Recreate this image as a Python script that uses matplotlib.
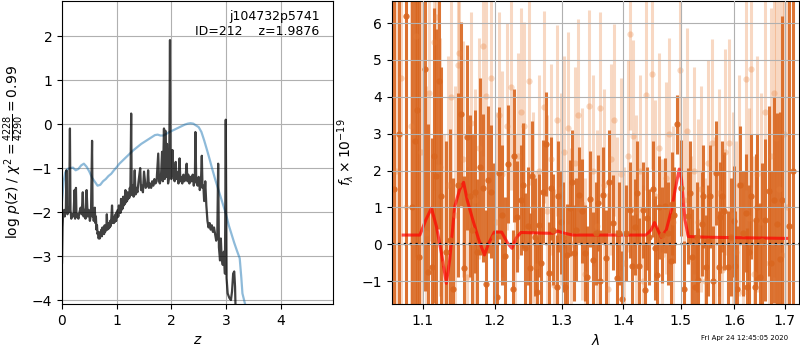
import numpy as np
import matplotlib.pyplot as plt
from matplotlib.ticker import FixedLocator, FormatStrFormatter, NullLocator

# ---- p(z) panel ----
z_low = [0.000, 0.010, 0.020, 0.030, 0.040, 0.050, 0.060, 0.070, 0.080, 0.090,
         0.100, 0.110, 0.130, 0.145, 0.155, 0.170, 0.190, 0.210, 0.230, 0.240,
         0.255, 0.265, 0.280, 0.300, 0.320, 0.340, 0.360, 0.380, 0.395, 0.410,
         0.430, 0.450, 0.470, 0.490, 0.510, 0.530, 0.550]
pz_low = [-3.15, -2.35, -2.05, -2.00, -1.95, -2.10, -1.98, -2.02, -1.05, -1.95,
          -2.05, -1.90, -2.00, -0.10, -1.95, -2.15, -2.05, -2.10, -1.50, -2.15,
          -1.45, -2.10, -2.05, -2.15, -2.00, -1.90, -2.05, -1.55, -2.10, -1.95,
          -2.15, -1.50, -2.10, -1.95, -2.20, -2.05, -0.38]

z_mid = [0.56, 0.57, 0.58, 0.59, 0.60, 0.61, 0.62, 0.63, 0.64, 0.65,
         0.66, 0.67, 0.68, 0.69, 0.70, 0.71, 0.72, 0.73, 0.74, 0.75,
         0.76, 0.77, 0.78, 0.79, 0.80, 0.81, 0.82, 0.83, 0.84, 0.85,
         0.86, 0.87, 0.88, 0.89, 0.90, 0.915, 0.93, 0.94, 0.95, 0.96,
         0.97, 0.98, 0.99, 1.00, 1.01, 1.02, 1.03, 1.04, 1.05, 1.06,
         1.07, 1.08, 1.09, 1.10, 1.11, 1.12, 1.13, 1.14, 1.15, 1.16,
         1.17, 1.18, 1.19, 1.20, 1.21, 1.22, 1.23, 1.24, 1.25]
pz_mid = [-2.10, -1.95, -2.20, -2.05, -1.90, -2.25, -2.10, -2.40, -2.30, -2.50,
          -2.45, -2.60, -2.50, -2.60, -2.45, -2.55, -2.40, -2.55, -2.35, -2.50,
          -2.40, -2.50, -2.30, -2.45, -2.35, -2.40, -2.05, -2.40, -2.30, -2.38,
          -2.25, -2.35, -2.20, -2.32, -2.18, -1.85, -2.25, -2.15, -2.25, -2.10,
          -2.22, -2.05, -2.20, -2.00, -2.12, -1.95, -2.10, -1.85, -2.00, -1.90,
          -2.02, -1.70, -1.95, -1.80, -1.92, -1.65, -1.85, -1.70, -1.82, -1.50,
          -1.78, -1.62, -1.75, -1.55, -1.70, -1.58, -1.68, -1.45, -1.62]

z_high = [1.265, 1.275, 1.290, 1.310, 1.330, 1.345, 1.360,
          1.380, 1.400, 1.430, 1.445, 1.460, 1.480, 1.500, 1.530, 1.560, 1.575,
          1.590, 1.610, 1.630, 1.650, 1.670, 1.690, 1.710, 1.730, 1.760, 1.775,
          1.790, 1.810, 1.830, 1.845, 1.865, 1.878, 1.890, 1.905, 1.920, 1.940,
          1.960, 1.975, 1.985, 2.000, 2.020, 2.040, 2.060, 2.080, 2.095, 2.110,
          2.130, 2.150, 2.165, 2.180, 2.200, 2.220, 2.240, 2.260, 2.280, 2.295,
          2.310, 2.330, 2.350, 2.370, 2.390, 2.410, 2.430, 2.440, 2.455, 2.480,
          2.500, 2.520, 2.540, 2.557, 2.570, 2.585, 2.600, 2.620, 2.640, 2.660,
          2.680, 2.700, 2.720, 2.740, 2.760, 2.780, 2.800, 2.820, 2.840, 2.856,
          2.870, 2.890, 2.905, 2.920, 2.940, 2.960, 2.980, 2.995, 3.010, 3.030,
          3.060, 3.090, 3.110, 3.130, 3.150, 3.165, 3.180]
pz_high = [0.24, -1.60, -1.40, -1.65, -1.05, -1.60, -1.45,
           -1.55, -1.30, -1.00, -1.50, -1.40, -1.55, -1.08, -1.45, -1.40, -1.05,
           -1.45, -1.35, -1.45, -1.30, -1.40, -1.25, -1.35, -1.30, -0.67, -1.30,
           -1.35, -1.20, -0.63, -1.30, -0.10, -1.25, -0.15, -1.20, -0.45, -1.35,
           -1.20, 1.91, -1.10, -1.25, -0.59, -1.15, -1.30, -0.86, -1.25, -1.10,
           -1.35, -0.78, -1.30, -1.20, -1.35, -1.15, -1.30, -1.20, -0.90, -1.30,
           -1.15, -1.35, -1.20, -1.30, -1.15, -1.40, -1.25, -0.18, -1.30, -1.40,
           -1.20, -1.50, -1.35, -0.72, -1.45, -1.40, -1.75, -1.30, -1.85, -2.20,
           -2.35, -2.25, -2.40, -2.30, -2.45, -2.35, -2.50, -2.65, -2.55, -0.90,
           -2.80, -3.10, -2.60, -3.05, -3.20, -2.90, -3.40, 0.10, -3.50, -3.85,
           -3.95, -4.00, -3.80, -3.40, -3.35, -3.70, -4.50]

z_prior = [0.00, 0.03, 0.06, 0.10, 0.15, 0.20, 0.25, 0.30, 0.35, 0.40,
           0.45, 0.50, 0.55, 0.60, 0.65, 0.70, 0.75, 0.80, 0.85, 0.90,
           0.95, 1.00, 1.05, 1.10, 1.15, 1.20, 1.25, 1.30, 1.35, 1.40,
           1.45, 1.50, 1.55, 1.60, 1.65, 1.70, 1.75, 1.80, 1.85, 1.90,
           1.95, 2.00, 2.05, 2.10, 2.15, 2.20, 2.25, 2.30, 2.35, 2.40,
           2.45, 2.50, 2.55, 2.60, 2.65, 2.70, 2.75, 2.80, 2.85, 2.90,
           2.95, 3.00, 3.05, 3.10, 3.15, 3.20, 3.25, 3.28, 3.30, 3.33, 3.36]
log_prior = [-1.75, -1.30, -1.10, -1.02, -1.00, -0.99, -1.05, -1.02, -0.94, -0.90,
             -0.97, -1.08, -1.22, -1.31, -1.40, -1.38, -1.30, -1.25, -1.18, -1.13,
             -1.05, -0.98, -0.90, -0.84, -0.78, -0.72, -0.66, -0.60, -0.55, -0.50,
             -0.45, -0.41, -0.37, -0.33, -0.29, -0.25, -0.24, -0.26, -0.26, -0.23,
             -0.19, -0.16, -0.13, -0.10, -0.07, -0.04, -0.01, 0.01, 0.02, 0.01,
             -0.03, -0.07, -0.18, -0.37, -0.58, -0.80, -1.03, -1.25, -1.45, -1.65,
             -1.85, -2.05, -2.30, -2.50, -2.70, -2.88, -3.05, -3.50, -3.85, -4.00, -4.15]

# ---- spectrum panel ----
wave_a = [1.063, 1.069, 1.078, 1.086, 1.090, 1.093, 1.096, 1.1035, 1.1075, 1.112,
          1.1155, 1.118, 1.122, 1.125, 1.131, 1.137, 1.1413, 1.148, 1.152, 1.1565,
          1.1607, 1.1644, 1.1714, 1.1738, 1.1832, 1.187, 1.1904, 1.195, 1.2033, 1.2062,
          1.2145, 1.2194, 1.2257, 1.2316, 1.238, 1.244, 1.2515, 1.2551, 1.2617, 1.2652,
          1.2718, 1.2764, 1.281, 1.2841, 1.2923, 1.2985, 1.3053, 1.3132, 1.3191, 1.328,
          1.3376, 1.3446, 1.3505, 1.3587, 1.3658, 1.3713, 1.3825, 1.3891, 1.3975, 1.405,
          1.4115, 1.4201, 1.427, 1.4332, 1.4372, 1.4445, 1.4506, 1.4576, 1.4664, 1.473,
          1.482, 1.489, 1.494, 1.500, 1.507, 1.5139, 1.520, 1.526, 1.532, 1.5385,
          1.5405, 1.547, 1.554, 1.5651, 1.571, 1.573, 1.576, 1.588, 1.600, 1.6005,
          1.611, 1.6232, 1.624, 1.6325, 1.640, 1.6415, 1.650, 1.661, 1.668, 1.672,
          1.684, 1.695, 1.708, 1.716]
flux_a = [1.5, 3.0, 6.2, 1.0, 2.79, 3.65, -0.34, 4.74, -0.74, -0.61,
          2.4, 1.84, 4.42, 1.3, -0.2, 0.12, -1.2, 1.61, 3.53, -0.65,
          2.9, 1.3, 1.43, -0.22, 1.52, -1.08, 1.75, 1.43, -1.42, 1.93,
          -0.32, 2.17, -1.2, 0.75, 1.2, -0.11, -0.65, 1.84, -1.29, 0.51,
          1.43, 2.72, -0.79, 1.52, -1.15, 0.6, -1.17, 0.98, -0.23, 1.34,
          -0.24, 1.22, -0.43, 1.11, 1.34, -0.38, 0.59, -0.92, -1.49, 0.3,
          0.93, 0.48, -0.6, 0.93, -1.24, 0.2, 1.49, -0.83, 0.25, 1.05,
          -0.45, 0.8, 3.25, 1.52, -1.2, 0.77, -0.34, -1.15, -0.97, 0.55,
          1.3, -0.61, 1.3, 1.93, -0.61, 0.73, 1.3, -0.61, 0.62, -0.6,
          1.61, 0.84, -1.15, 1.3, -1.15, 0.66, -0.88, 0.66, 1.44, -0.52,
          0.55, 1.2, 0.5, 2.0]
err_a = [9, 9, 9, 9, 8, 8, 8, 6, 4, 3.5,
         4, 4, 4, 3.5, 3, 3, 3, 2.5, 2.5, 2.5,
         2.5, 2.2, 2.2, 2.0, 2.0, 2.0, 2.0, 1.8, 1.8, 1.8,
         1.6, 1.6, 1.6, 1.5, 1.5, 1.5, 1.5, 1.5, 1.5, 1.4,
         1.4, 1.4, 1.4, 1.4, 1.4, 1.4, 1.3, 1.3, 1.3, 1.3,
         1.3, 1.3, 1.3, 1.3, 1.3, 1.3, 1.3, 1.3, 1.3, 1.3,
         1.3, 1.3, 1.3, 1.3, 1.3, 1.3, 1.3, 1.3, 1.3, 1.3,
         1.3, 1.3, 0.8, 1.3, 1.3, 1.3, 1.3, 1.4, 1.4, 1.4,
         1.4, 1.4, 1.4, 1.4, 1.5, 1.5, 1.5, 1.5, 1.5, 1.5,
         1.6, 1.6, 1.6, 1.7, 1.8, 1.8, 2.0, 2.2, 2.3, 2.5,
         3.0, 5, 9, 9]

# second exposure, same grism
wave_c = [1.1675, 1.1785, 1.199, 1.210, 1.228, 1.241, 1.248, 1.2585, 1.268, 1.2875,
          1.295, 1.302, 1.309, 1.316, 1.323, 1.333, 1.341, 1.355, 1.362, 1.376,
          1.393, 1.4155, 1.424, 1.441, 1.454, 1.462, 1.478, 1.4855, 1.517, 1.5295,
          1.5505, 1.559, 1.581, 1.5935, 1.606, 1.617, 1.628, 1.645, 1.655, 1.678,
          1.690]
flux_c = [0.4, 2.1, 0.2, 0.8, 2.4, 1.6, 0.5, 0.2, -0.5, 0.4,
          1.3, 0.2, -0.3, 1.7, 0.4, 0.9, -0.9, 0.3, -1.0, 1.7,
          0.3, -0.6, 1.4, 0.7, -0.1, 1.0, 0.3, 1.1, 1.4, 0.2,
          0.1, -1.0, 0.9, 0.2, -1.2, 0.3, -0.2, 1.0, 0.1, 1.2,
          -0.4]
err_c = [2.6, 2.4, 2.0, 1.9, 1.8, 1.7, 1.6, 1.6, 1.5, 1.5,
         1.5, 1.5, 1.4, 1.4, 1.4, 1.4, 1.4, 1.4, 1.4, 1.4,
         1.4, 1.4, 1.4, 1.4, 1.4, 1.4, 1.4, 1.4, 1.4, 1.5,
         1.5, 1.5, 1.6, 1.6, 1.7, 1.7, 1.8, 2.0, 2.1, 2.8,
         4.0]

wave_b = [1.066, 1.072, 1.079, 1.085, 1.092, 1.098, 1.104, 1.109, 1.1155, 1.1185,
          1.124, 1.129, 1.134, 1.139, 1.144, 1.148, 1.150, 1.155, 1.160, 1.166,
          1.171, 1.177, 1.1823, 1.187, 1.1951, 1.201, 1.206, 1.211, 1.2176, 1.2236,
          1.229, 1.234, 1.238, 1.243, 1.250, 1.256, 1.261, 1.266, 1.2726, 1.278,
          1.283, 1.288, 1.2935, 1.299, 1.304, 1.310, 1.315, 1.321, 1.3267, 1.332,
          1.338, 1.344, 1.350, 1.356, 1.362, 1.368, 1.374, 1.379, 1.384, 1.390,
          1.396, 1.402, 1.4075, 1.4115, 1.416, 1.422, 1.428, 1.434, 1.4392, 1.4492,
          1.455, 1.461, 1.467, 1.474, 1.480, 1.487, 1.4995, 1.506, 1.512, 1.518,
          1.525, 1.531, 1.538, 1.544, 1.551, 1.557, 1.563, 1.570, 1.577, 1.583,
          1.590, 1.597, 1.603, 1.610, 1.617, 1.6232, 1.628, 1.633, 1.638, 1.645,
          1.652, 1.661, 1.668, 1.672, 1.678, 1.683, 1.689, 1.694, 1.699, 1.704]
flux_b = [2.0, 4.5, 1.0, 3.2, 5.66, 2.5, 0.3, 4.09, 5.48, 6.17,
          2.1, -0.5, 1.6, 4.0, 0.8, 4.85, 5.19, 2.3, -0.9, 3.3,
          1.2, 2.6, 5.39, 4.03, 4.51, 0.6, 3.51, 1.9, 3.2, 4.27,
          0.2, 2.4, 3.6, 3.22, 4.42, 1.0, -0.6, 2.0, 3.72, 0.9,
          2.3, -1.1, 3.36, 1.5, 2.5, 3.15, 0.0, 2.2, 3.51, 1.1,
          -0.8, 3.76, 2.0, 0.5, 3.7, 1.6, -1.2, 2.3, 3.38, 0.3,
          1.9, -0.5, 2.4, 5.69, 2.93, 0.9, 2.0, -1.0, 4.06, 4.63,
          1.3, 2.6, -0.3, 1.8, 3.0, 0.6, 4.72, 1.2, 3.06, -0.4,
          2.0, 0.6, 1.5, -1.0, 2.2, 2.76, 0.1, 1.4, -0.7, 2.5,
          2.76, 0.8, -0.2, 1.6, -1.3, 4.48, 0.7, 4.75, -0.8, 1.9,
          0.6, 3.58, -0.5, 2.4, 4.1, 2.88, 1.5, -0.3, 3.0, 1.0]
err_b = [9, 9, 8, 8, 6, 5, 4, 4, 4, 4,
         3.5, 3.5, 3.5, 3.5, 3.5, 3.2, 3.2, 3.2, 3.0, 3.0,
         3.0, 3.0, 3.0, 3.0, 3.0, 3.0, 2.8, 2.8, 2.8, 2.8,
         2.8, 2.8, 2.8, 2.8, 2.8, 2.6, 2.6, 2.6, 2.6, 2.6,
         2.6, 2.6, 2.6, 2.6, 2.6, 2.6, 2.6, 2.6, 2.6, 2.6,
         2.6, 2.6, 2.6, 2.6, 2.6, 2.6, 2.6, 2.6, 2.6, 2.6,
         2.6, 2.6, 2.6, 2.6, 2.6, 2.6, 2.6, 2.6, 2.6, 2.6,
         2.6, 2.6, 2.6, 2.6, 2.6, 2.6, 2.8, 2.8, 2.8, 2.8,
         2.8, 2.8, 2.8, 2.8, 2.8, 2.8, 2.8, 2.8, 2.8, 2.8,
         2.8, 2.8, 3.0, 3.0, 3.0, 3.0, 3.0, 3.2, 3.2, 3.2,
         3.5, 3.5, 4, 4, 5, 6, 8, 9, 9, 9]

wave_model = [1.0747, 1.0965, 1.1044, 1.1119, 1.1186, 1.1253, 1.132, 1.1365, 1.1434, 1.1502,
              1.1557, 1.1607, 1.1686, 1.177, 1.185, 1.1911, 1.1992, 1.2098, 1.2185, 1.2248,
              1.2307, 1.2381, 1.276, 1.2863, 1.294, 1.3045, 1.3178, 1.4391, 1.4479, 1.4537,
              1.4584, 1.4655, 1.4745, 1.4835, 1.4914, 1.4975, 1.5018, 1.5079, 1.514, 1.5516,
              1.70, 1.7039]
flux_model = [0.25, 0.25, 0.66, 0.98, 0.48, -0.24, -1.06, -0.43, 1.02, 1.48,
              1.68, 1.2, 0.66, 0.12, -0.29, 0.03, 0.33, 0.33, 0.03, -0.11,
              0.16, 0.32, 0.3, 0.3, 0.36, 0.3, 0.25, 0.25, 0.39, 0.59,
              0.43, 0.19, 0.39, 0.93, 1.57, 2.04, 1.75, 0.66, 0.21, 0.19,
              0.16, 0.16]

fig = plt.figure(figsize=(8, 3.5), dpi=100)

# Left: redshift probability
ax = fig.add_axes([0.0775, 0.1314, 0.339, 0.866])
ax.plot(z_prior, log_prior, color='tab:blue', alpha=0.5, lw=1.6)
ax.plot(z_low + z_mid + z_high, pz_low + pz_mid + pz_high, color='k', alpha=0.75, lw=1.6)
ax.set_xlim(0, 4.96)
ax.set_ylim(-4.09, 2.8)
ax.set_xticks([0, 1, 2, 3, 4])
ax.set_yticks([-4, -3, -2, -1, 0, 1, 2])
ax.grid()
ax.set_xlabel(r'$z$')
ax.set_ylabel(r'log $p(z)$ / $\chi^2=\frac{4228}{4290}=0.99$')
ax.text(0.95, 0.97, 'j104732p5741\nID=212    z=1.9876', transform=ax.transAxes,
        ha='right', va='top', fontsize=9)

# Right: spectrum
ax1 = fig.add_axes([0.4896, 0.1314, 0.5095, 0.866])
ax1.errorbar(wave_b, flux_b, yerr=err_b, fmt='o', color='#e8803a', alpha=0.3,
             ms=4.5, elinewidth=2.2, mew=0)
ax1.errorbar(wave_a, flux_a, yerr=err_a, fmt='o', color='#d9661f', alpha=0.9,
             ms=4.5, elinewidth=2.2, mew=0)
ax1.errorbar(wave_c, flux_c, yerr=err_c, fmt='o', color='#d9661f', alpha=0.9,
             ms=4.5, elinewidth=2.2, mew=0)
ax1.plot(wave_model, flux_model, color='r', alpha=0.7, lw=2.2)
ax1.axhline(0, color='k', linestyle=':', lw=1.6)
ax1.set_xscale('log')
ax1.xaxis.set_major_locator(FixedLocator([1.1, 1.2, 1.3, 1.4, 1.5, 1.6, 1.7]))
ax1.xaxis.set_major_formatter(FormatStrFormatter('%.1f'))
ax1.xaxis.set_minor_locator(NullLocator())
ax1.set_xlim(1.06, 1.73)
ax1.set_ylim(-1.62, 6.6)
ax1.set_axisbelow(False)
ax1.grid()
ax1.set_xlabel(r'$\lambda$')
ax1.set_ylabel(r'$f_\lambda\times10^{-19}$')

fig.text(0.985, 0.025, 'Fri Apr 24 12:45:05 2020', ha='right', va='bottom', fontsize=5)

fig.savefig('out.png', dpi=100)
